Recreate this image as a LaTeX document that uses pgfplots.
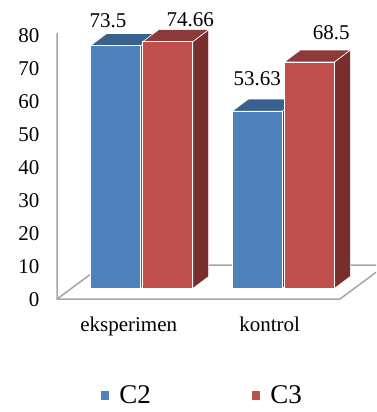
\documentclass[border=0pt]{standalone}
\usepackage{fontspec}
\setmainfont{Liberation Serif}
\usepackage{pgfplots}
\pgfplotsset{compat=1.18}
\definecolor{bfront}{RGB}{79,129,189}
\definecolor{btop}{RGB}{58,96,142}
\definecolor{bside}{RGB}{50,82,122}
\definecolor{rfront}{RGB}{192,80,77}
\definecolor{rtop}{RGB}{142,58,56}
\definecolor{rside}{RGB}{120,46,44}
\definecolor{floorc}{RGB}{166,166,166}
\begin{document}
\begin{tikzpicture}
\begin{axis}[
  scale only axis,
  width=376pt, height=412pt,
  xmin=-1.0007, xmax=1.6547,
  ymin=-37.36, ymax=87.27,
  axis line style={draw=none},
  axis background/.style={fill=white},
  major tick length=0pt,
  tick style={draw=none},
  ytick={0,10,...,80},
  yticklabels={0,10,20,30,40,50,60,70,80},
  yticklabel style={font=\fontsize{21}{24}\selectfont, anchor=east, inner sep=0pt, xshift=39.5pt, yshift=-11.5pt},
  xtick={-0.092,0.904},
  xticklabels={eksperimen,kontrol},
  xticklabel style={font=\fontsize{21}{24}\selectfont, anchor=base, inner sep=0pt, yshift=80.3pt},
  legend columns=2,
  legend style={draw=none, fill=none, inner sep=0pt, font=\fontsize{27}{30}\selectfont,
    nodes={inner sep=0pt, text depth=0pt},
    at={(axis cs:-0.289,-35.0)}, anchor=south west,
    /tikz/every odd column/.append style={column sep=10pt},
    /tikz/every even column/.append style={column sep=101pt}},
  legend image code/.code={\fill[#1, draw=none] (0pt,-4.5pt) rectangle (8.5pt,4.5pt);},
]
% floor and vertical axis line
\addplot[draw=floorc, line width=1.5pt, forget plot] coordinates {(-0.598,77.3) (-0.598,-3.18) (1.4004,-3.18) (1.725,7.1)};
\addplot[draw=floorc, line width=1.5pt, forget plot] coordinates {(-0.598,-3.18) (-0.273,7.1) (1.725,7.1)};
% blue side and top faces
\addplot[fill=bside, draw=white, line width=0.6pt, forget plot] coordinates {(-0.0070,0) (0.1060,3.63) (0.1060,77.13) (-0.0070,73.5) (-0.0070,0)};
\addplot[fill=btop, draw=white, line width=0.6pt, forget plot] coordinates {(-0.3602,73.5) (-0.0070,73.5) (0.1060,77.13) (-0.2472,77.13) (-0.3602,73.5)};
\addplot[fill=bside, draw=white, line width=0.6pt, forget plot] coordinates {(0.9930,0) (1.1060,3.63) (1.1060,57.26) (0.9930,53.63) (0.9930,0)};
\addplot[fill=btop, draw=white, line width=0.6pt, forget plot] coordinates {(0.6398,53.63) (0.9930,53.63) (1.1060,57.26) (0.7528,57.26) (0.6398,53.63)};
% blue fronts: C2
\addplot[ybar, bar width=50pt, bar shift=-26pt, fill=bfront, draw=white, line width=0.6pt] coordinates {(0,73.5) (1,53.63)};
\addlegendentry{C2}
% red side and top faces
\addplot[fill=rside, draw=white, line width=0.6pt, forget plot] coordinates {(0.3602,0) (0.4732,3.63) (0.4732,78.29) (0.3602,74.66) (0.3602,0)};
\addplot[fill=rtop, draw=white, line width=0.6pt, forget plot] coordinates {(0.0070,74.66) (0.3602,74.66) (0.4732,78.29) (0.1200,78.29) (0.0070,74.66)};
\addplot[fill=rside, draw=white, line width=0.6pt, forget plot] coordinates {(1.3602,0) (1.4732,3.63) (1.4732,72.13) (1.3602,68.5) (1.3602,0)};
\addplot[fill=rtop, draw=white, line width=0.6pt, forget plot] coordinates {(1.0070,68.5) (1.3602,68.5) (1.4732,72.13) (1.1200,72.13) (1.0070,68.5)};
% red fronts: C3
\addplot[ybar, bar width=50pt, bar shift=26pt, fill=rfront, draw=white, line width=0.6pt] coordinates {(0,74.66) (1,68.5)};
\addlegendentry{C3}
% data labels
\begin{scope}[font=\fontsize{21}{24}\selectfont]
\node[anchor=base, inner sep=0pt] at (axis cs:-0.238,78.8) {73.5};
\node[anchor=base, inner sep=0pt] at (axis cs:0.343,79.19) {74.66};
\node[anchor=base, inner sep=0pt] at (axis cs:0.816,61.5) {53.63};
\node[anchor=base, inner sep=0pt] at (axis cs:1.339,75.38) {68.5};
\end{scope}
\end{axis}
\end{tikzpicture}
\end{document}
